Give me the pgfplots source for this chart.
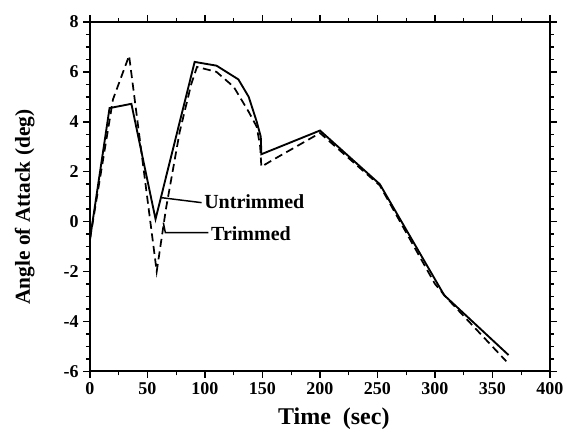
\documentclass[border=0pt]{standalone}
\usepackage{fontspec}
\setmainfont{Liberation Serif}
\usepackage{pgfplots}
\pgfplotsset{compat=1.18}

\begin{document}
\begin{tikzpicture}
\begin{axis}[
    scale only axis,
    width=345pt, height=262pt,
    xmin=0, xmax=400, ymin=-6, ymax=8,
    xtick={0,50,...,400}, ytick={-6,-4,...,8},
    minor x tick num=1, minor y tick num=3,
    tick align=outside,
    major tick length=5pt, minor tick length=3pt,
    axis line style={line width=1.3pt},
    every tick/.style={line width=1.1pt, black},
    xticklabel pos=lower, yticklabel pos=left,
    /pgf/number format/assume math mode=true,
    tick label style={font=\fontsize{13.5}{15}\selectfont\bfseries},
    xlabel={Time\ \ (sec)},
    ylabel={Angle of Attack (deg)},
    xlabel style={font=\fontsize{18}{20}\selectfont\bfseries, at={(axis description cs:0.53,-0.137)}, anchor=center},
    ylabel style={font=\fontsize{16}{18}\selectfont\bfseries, at={(axis description cs:-0.142,0.47)}, anchor=center},
    clip=false,
]
% untrimmed
\addplot[black, line width=1.4pt] coordinates {
(0,-0.7) (17,4.55) (36,4.72) (57,0.1) (91,6.4) (110,6.25) (129,5.7)
(138,5.0) (145,4.0) (148.5,3.4) (149,2.7) (200,3.65) (252,1.5) (308,-2.95) (364,-5.35)
};
% trimmed
\addplot[black, line width=1.3pt, dash pattern=on 6pt off 3.5pt] coordinates {
(0,-0.7) (20,4.9) (34,6.65) (58,-2.0) (66,0.5) (78,3.6) (88,5.5) (93,6.2)
(110,6.0) (125,5.4) (138,4.4) (145,3.8) (148,3.0) (149,2.2) (160,2.5)
(200,3.55) (252,1.45) (300,-2.5) (310,-3.05) (362,-5.6)
};
\draw[black, line width=1.1pt] (axis cs:62,0.96) -- (axis cs:97,0.76);
\draw[black, line width=1.1pt] (axis cs:63.8,-0.04) -- (axis cs:65.5,-0.44) -- (axis cs:103,-0.44);
\node[anchor=west, font=\fontsize{15}{17}\selectfont\bfseries, inner sep=1pt] at (axis cs:98,0.8) {Untrimmed};
\node[anchor=west, font=\fontsize{15}{17}\selectfont\bfseries, inner sep=1pt] at (axis cs:104,-0.5) {Trimmed};
\end{axis}
\useasboundingbox (current axis.south west) ++(-67.5pt,-48.8pt) rectangle ([shift={(26.25pt,16.5pt)}]current axis.north east);
\end{tikzpicture}
\end{document}
